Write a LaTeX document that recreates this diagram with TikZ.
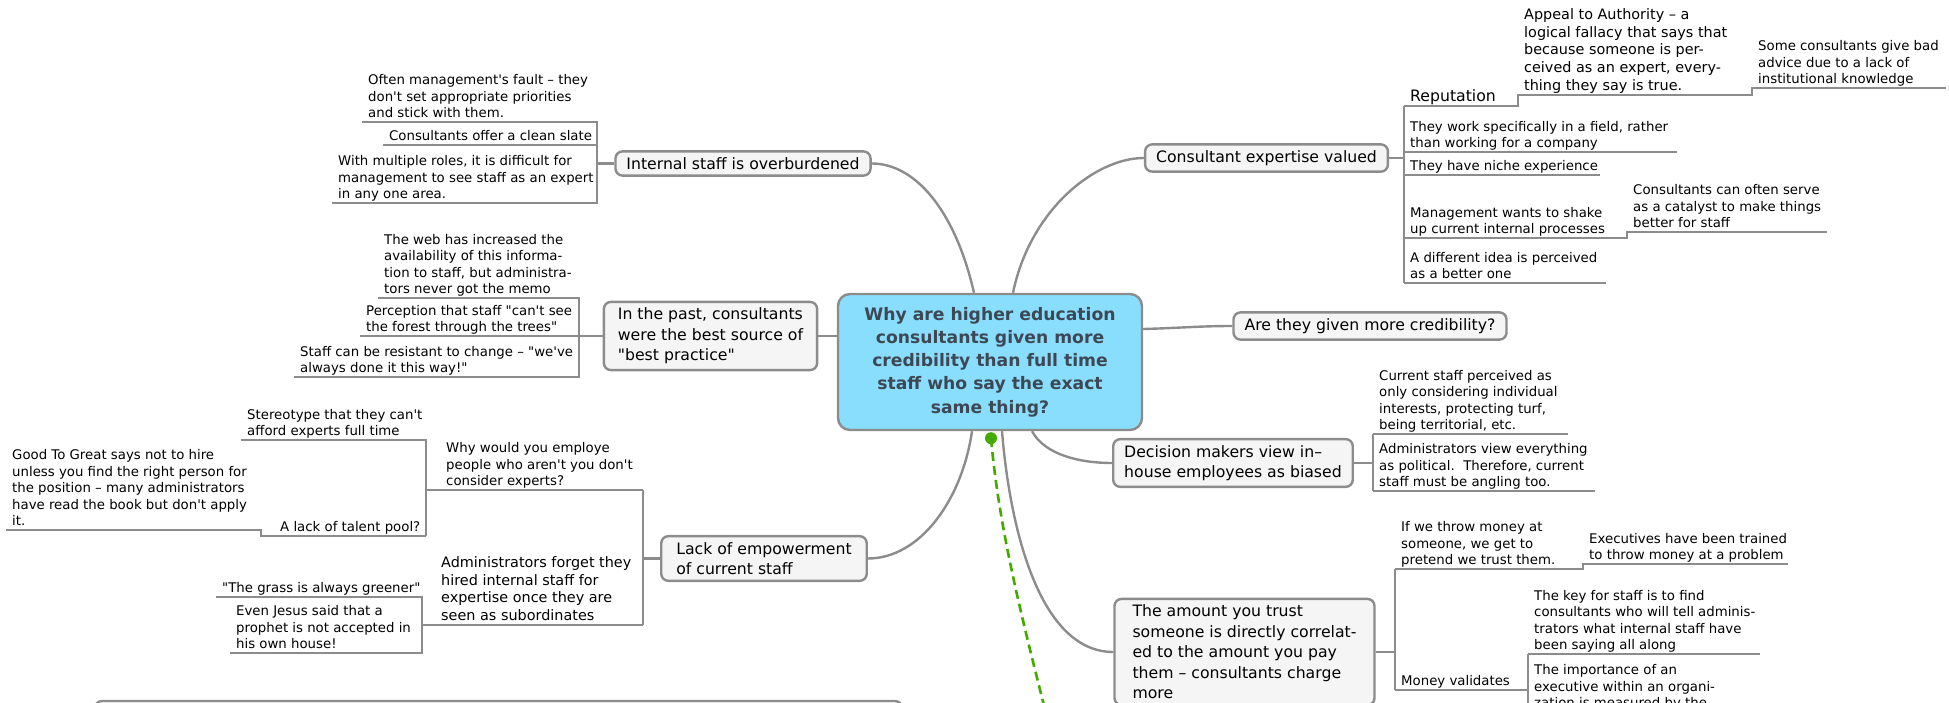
\documentclass[tikz,border=0pt]{standalone}
\usepackage{fontspec}
\setmainfont{DejaVu Sans}[Ligatures=TeXOff]
\usetikzlibrary{positioning}

\definecolor{linegray}{RGB}{140,140,140}
\definecolor{boxfill}{RGB}{245,245,245}
\definecolor{rootfill}{RGB}{137,221,253}
\definecolor{roottext}{RGB}{62,72,84}
\definecolor{linkgreen}{RGB}{68,170,0}

\newcommand{\leaffont}{\fontsize{13.3}{16.5}\selectfont}
\newcommand{\midfont}{\fontsize{14.4}{17.9}\selectfont}
\newcommand{\topicfont}{\fontsize{15.7}{20.5}\selectfont}
\newcommand{\rootfont}{\fontsize{17.2}{23.3}\selectfont\bfseries}

\tikzset{
  branch/.style={draw=linegray, line width=2.4pt},
  topic/.style={draw=linegray, line width=2.4pt, fill=boxfill, rounded corners=7pt,
    align=left, inner xsep=11pt, inner ysep=6pt, font=\topicfont},
  central/.style={topic, fill=rootfill, text=roottext, align=center, rounded corners=12pt,
    minimum width=304pt, minimum height=136pt, font=\rootfont},
  leaf/.style={anchor=south west, align=left, inner xsep=6pt, inner ysep=1pt,
    text depth=3pt, font=\leaffont},
  leafmid/.style={leaf, font=\midfont},
  leaftop/.style={leaf, font=\topicfont},
  greenlink/.style={linkgreen, line width=2.6pt, dash pattern=on 9pt off 5pt}
}

\begin{document}
\begin{tikzpicture}[x=1pt, y=-1pt]
\useasboundingbox (0,0) rectangle (1949,703);

% main topics
\node[central] (root) at (990,362) {Why are higher education\\consultants given more\\credibility than full time\\staff who say the exact\\same thing?};
\node[topic] (internal) at (743,163.5) {Internal staff is overburdened};
\node[topic] (consult) at (1266.5,158) {Consultant expertise valued};
\node[topic] (credib) at (1370,326) {Are they given more credibility?};
\node[topic, inner xsep=14pt] (past) at (710.5,336) {In the past, consultants\\were the best source of\\"best practice"};
\node[topic] (decision) at (1233,463) {Decision makers view in–\\house employees as biased};
\node[topic, inner xsep=18pt] (amount) at (1244.5,652) {The amount you trust\\someone is directly correlat-\\ed to the amount you pay\\them – consultants charge\\more};
\node[topic, inner xsep=15pt] (lack) at (764,558.5) {Lack of empowerment\\of current staff};
\draw[branch, fill=boxfill, rounded corners=7pt] (95,701) rectangle (902,770);

% curves from the central topic
\draw[branch] ([xshift=-16pt]root.north) .. controls (955,210) and (915,163.5) .. (internal.east);
\draw[branch] ([xshift=23pt]root.north) .. controls (1030,210) and (1095,158) .. (consult.west);
\draw[branch] ([yshift=33pt]root.east) .. controls (1180,328) and (1200,326) .. (credib.west);
\draw[branch] (root.west |- past.east) -- (past.east);
\draw[branch] ([xshift=42pt]root.south) .. controls (1045,455) and (1080,463) .. (decision.west);
\draw[branch] ([xshift=12pt]root.south) .. controls (1010,530) and (1040,652) .. (amount.west);
\draw[branch] ([xshift=-18pt]root.south) .. controls (962,500) and (920,558.5) .. (lack.east);

% relationship
\coordinate (gdot) at ([xshift=1pt,yshift=-7pt]root.south);
\coordinate (gend) at (1050,730);
\draw[greenlink] (gdot) .. controls (1000,540) and (1028,640) .. (gend);
\fill[linkgreen] (gdot) circle (6pt);

% internal staff is overburdened
\coordinate (ibr) at (597,163.5);
\node[leaf] (often) at (362,122) {Often management's fault – they\\don't set appropriate priorities\\and stick with them.};
\node[leaf] (slate) at (383,145) {Consultants offer a clean slate};
\node[leaf] (roles) at (332,203) {With multiple roles, it is difficult for\\management to see staff as an expert\\in any one area.};
\draw[branch] (internal.west) -- (ibr);
\draw[branch] (often.south west) -- (often.south west -| ibr) -- (roles.south west -| ibr) -- (roles.south west);
\draw[branch] (slate.south west) -- (slate.south west -| ibr);

% in the past
\coordinate (pbr) at (579,336);
\node[leaf] (web) at (378,298) {The web has increased the\\availability of this informa-\\tion to staff, but administra-\\tors never got the memo};
\node[leaf] (forest) at (360,336) {Perception that staff "can't see\\the forest through the trees"};
\node[leaf] (resist) at (294,377) {Staff can be resistant to change – "we've\\always done it this way!"};
\draw[branch] (past.west) -- (past.west -| pbr);
\draw[branch] (web.south west) -- (web.south west -| pbr) -- (resist.south west -| pbr) -- (resist.south west);
\draw[branch] (forest.south west) -- (forest.south west -| pbr);

% lack of empowerment
\coordinate (lbr) at (643,558.5);
\coordinate (wbr) at (426,490);
\coordinate (abr) at (422,625);
\node[leaf] (whyemp) at (440,490) {Why would you employe\\people who aren't you don't\\consider experts?};
\node[leaf] (stereo) at (241,440) {Stereotype that they can't\\afford experts full time};
\node[leaf] (talent) at (274,536) {A lack of talent pool?};
\node[leaf] (great) at (6,530) {Good To Great says not to hire\\unless you find the right person for\\the position – many administrators\\have read the book but don't apply\\it.};
\node[leafmid] (forget) at (435,625) {Administrators forget they\\hired internal staff for\\expertise once they are\\seen as subordinates};
\node[leaf] (grass) at (216,597) {"The grass is always greener"};
\node[leaf] (jesus) at (230,653) {Even Jesus said that a\\prophet is not accepted in\\his own house!};
\draw[branch] (lack.west) -- (lbr);
\draw[branch] (whyemp.south west -| lbr) -- (forget.south west -| lbr);
\draw[branch] (whyemp.south west -| wbr) -- (whyemp.south west -| lbr);
\draw[branch] (forget.south west -| abr) -- (forget.south west -| lbr);
\draw[branch] (stereo.south west) -- (stereo.south west -| wbr) -- (talent.south west -| wbr);
\draw[branch] (talent.south west -| wbr) -- ([xshift=-13pt]talent.south west) -- ([xshift=-13pt]talent.south west |- great.south) -- (great.south west);
\draw[branch] (grass.south west) -- (grass.south west -| abr) -- (jesus.south west -| abr) -- (jesus.south west);

% consultant expertise valued
\node[leaftop] (rep) at (1404,106) {Reputation};
\node[leafmid] (appeal) at (1518,95) {Appeal to Authority – a\\logical fallacy that says that\\because someone is per-\\ceived as an expert, every-\\thing they say is true.};
\node[leaf] (badadvice) at (1752,88) {Some consultants give bad\\advice due to a lack of\\institutional knowledge};
\node[leaf] (field) at (1404,152) {They work specifically in a field, rather\\than working for a company};
\node[leaf] (niche) at (1404,175) {They have niche experience};
\node[leaf] (shake) at (1404,238) {Management wants to shake\\up current internal processes};
\node[leaf] (catalyst) at (1627,232) {Consultants can often serve\\as a catalyst to make things\\better for staff};
\node[leaf] (different) at (1404,283) {A different idea is perceived\\as a better one};
\draw[branch] (consult.east) -- (consult.east -| rep.south west);
\draw[branch] (rep.south west) -- (different.south west);
\draw[branch] (rep.south west) -- ++(114,0) |- (appeal.south west) -- ++(234,0) |- (badadvice.south west) -- ++(194,0);
\draw[branch] (field.south west) -- ++(273,0);
\draw[branch] (niche.south west) -- ++(196,0);
\draw[branch] (shake.south west) -- ++(223,0) |- (catalyst.south west) -- ++(200,0);
\draw[branch] (different.south west) -- ++(202,0);

% decision makers
\node[leaf] (turf) at (1373,434) {Current staff perceived as\\only considering individual\\interests, protecting turf,\\being territorial, etc.};
\node[leaf] (political) at (1373,491) {Administrators view everything\\as political.\ \ Therefore, current\\staff must be angling too.};
\draw[branch] (decision.east) -- (decision.east -| turf.south west);
\draw[branch] (turf.south west) -- (political.south west);
\draw[branch] (turf.south west) -- ++(195,0);
\draw[branch] (political.south west) -- ++(222,0);

% the amount you trust
\node[leaf] (throw) at (1395,569) {If we throw money at\\someone, we get to\\pretend we trust them.};
\node[leaf] (trained) at (1583,564) {Executives have been trained\\to throw money at a problem};
\node[leaf] (validates) at (1395,690) {Money validates};
\node[leaf] (keyfind) at (1528,654) {The key for staff is to find\\consultants who will tell adminis-\\trators what internal staff have\\been saying all along};
\node[leaf] (measured) at (1528,712) {The importance of an\\executive within an organi-\\zation is measured by the};
\draw[branch] (amount.east) -- (amount.east -| throw.south west);
\draw[branch] (throw.south west) -- (validates.south west);
\draw[branch] (throw.south west) -- ++(188,0) |- (trained.south west) -- ++(205,0);
\draw[branch] (validates.south west) -- ++(133,0);
\draw[branch] (keyfind.south west) -- (measured.south west);
\draw[branch] (keyfind.south west) -- ++(232,0);
\draw[branch] (measured.south west) -- ++(220,0);
\end{tikzpicture}
\end{document}
